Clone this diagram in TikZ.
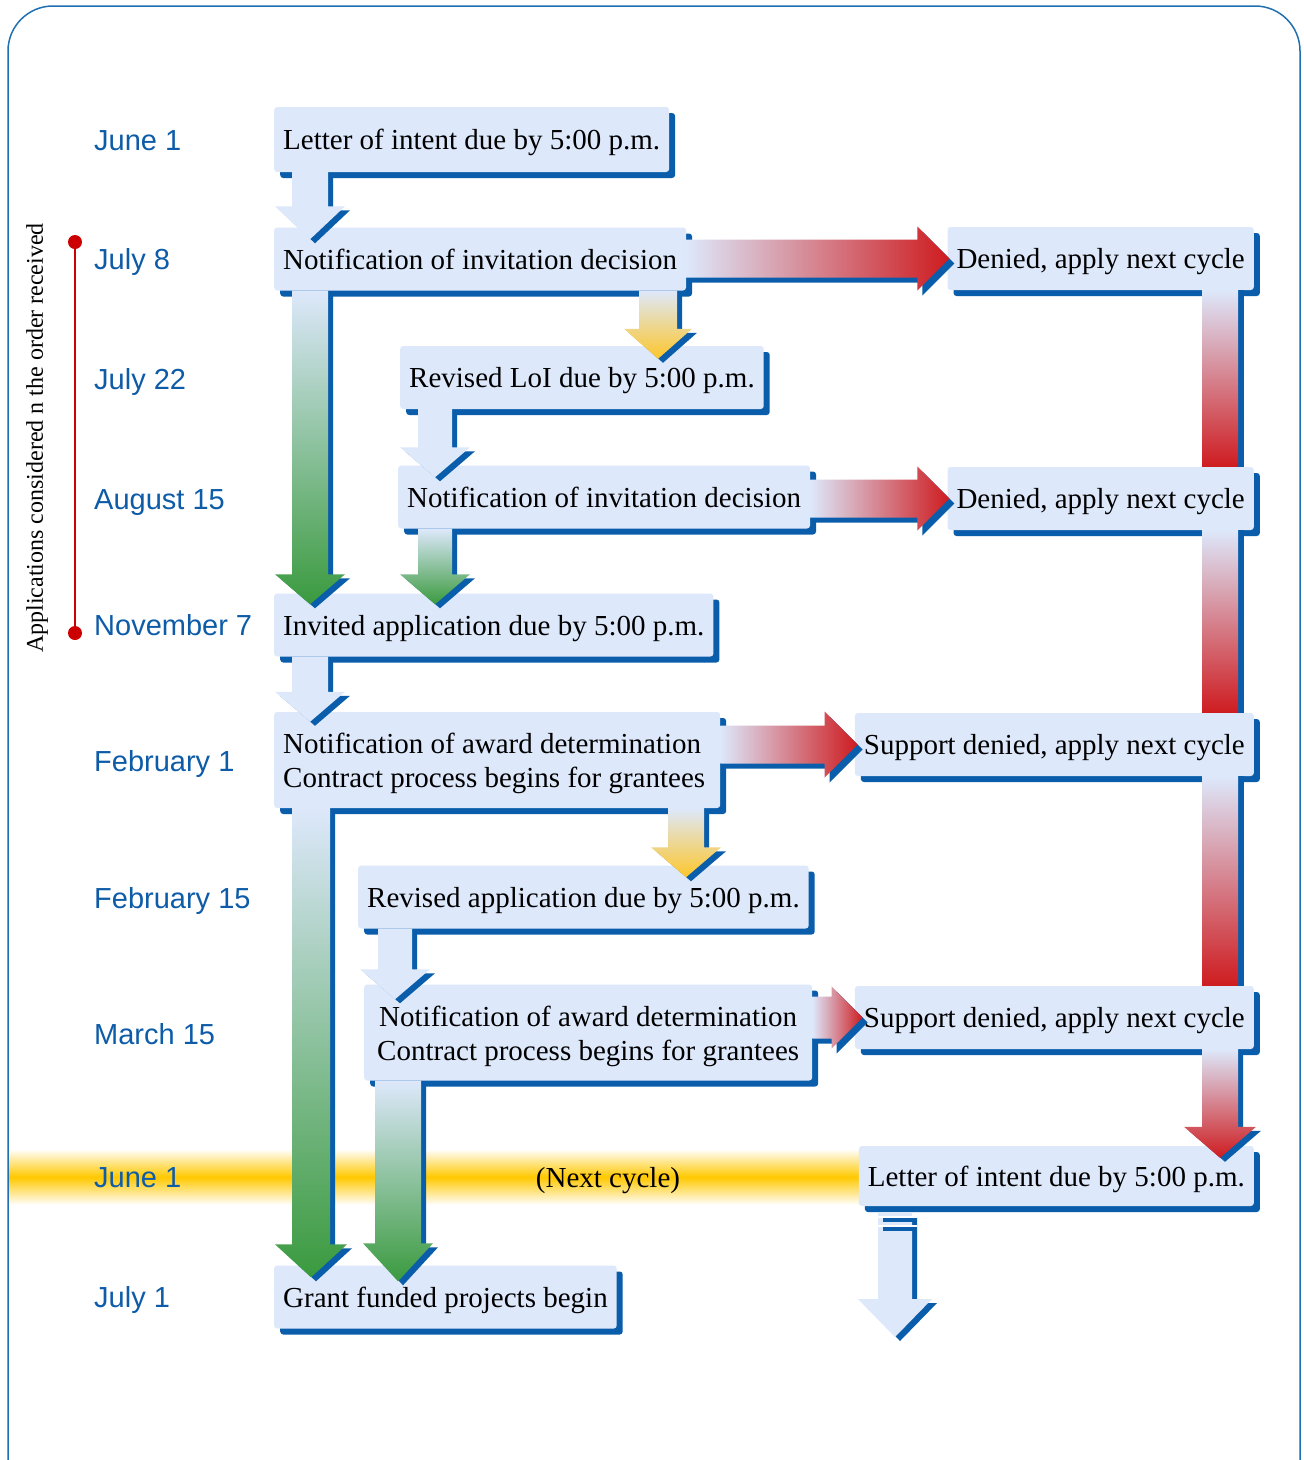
\documentclass[tikz,border=0pt]{standalone}
\usepackage{fontspec}
\setmainfont{Liberation Serif}
\newfontfamily\datefont{Liberation Sans}
\usetikzlibrary{shadows}
\definecolor{boxfill}{RGB}{221,232,251}
\definecolor{shadowblue}{RGB}{10,93,170}
\definecolor{datetext}{RGB}{14,92,168}
\definecolor{arrred}{RGB}{206,28,32}
\definecolor{arrgreen}{RGB}{58,154,62}
\definecolor{arryellow}{RGB}{253,198,43}
\definecolor{framecol}{RGB}{31,112,176}
\definecolor{bandyellow}{RGB}{255,200,0}
\definecolor{linered}{RGB}{204,0,0}
% vertical block arrow: #1 src, #2 tgt, #3 x centre, #4 shaft half width,
% #5 head half width, #6 head length, #7 overlap into target, #8 fill
\newcommand\DArrow[8]{%
  \path (#1); \pgfgetlastxy{\qax}{\qay}%
  \path (#2); \pgfgetlastxy{\qbx}{\qby}%
  \pgfmathsetmacro\qyt{\qay}%
  \pgfmathsetmacro\qyp{\qby-#7}%
  \pgfmathsetmacro\qyh{\qyp+#6}%
  \pgfmathsetmacro\qxa{#3-#4}\pgfmathsetmacro\qxb{#3+#4}%
  \pgfmathsetmacro\qxc{#3-#5}\pgfmathsetmacro\qxd{#3+#5}%
  \fill[shadowblue,shift={(5,-4)}] (\qxa,\qyt) -- (\qxb,\qyt) -- (\qxb,\qyh) -- (\qxd,\qyh) -- (#3,\qyp) -- (\qxc,\qyh) -- (\qxa,\qyh) -- cycle;
  \path[#8] (\qxa,\qyt) -- (\qxb,\qyt) -- (\qxb,\qyh) -- (\qxd,\qyh) -- (#3,\qyp) -- (\qxc,\qyh) -- (\qxa,\qyh) -- cycle;
}
% vertical bar without head: #1 src, #2 tgt, #3 x centre, #4 half width, #5 fill
\newcommand\VBar[5]{%
  \path (#1); \pgfgetlastxy{\qax}{\qay}%
  \path (#2); \pgfgetlastxy{\qbx}{\qby}%
  \pgfmathsetmacro\qxa{#3-#4}\pgfmathsetmacro\qxb{#3+#4}%
  \fill[shadowblue] (\qxb,\qay) rectangle ({\qxb+6},\qby);
  \path[#5] (\qxa,\qay) rectangle (\qxb,\qby);
}
% horizontal block arrow: #1 src, #2 tgt, #3 shaft half height,
% #4 head half height, #5 head length, #6 overlap, #7 fill
\newcommand\HArrow[7]{%
  \path (#1); \pgfgetlastxy{\qax}{\qay}%
  \path (#2); \pgfgetlastxy{\qbx}{\qby}%
  \pgfmathsetmacro\qxs{\qax}%
  \pgfmathsetmacro\qxp{\qbx+#6}%
  \pgfmathsetmacro\qxh{\qxp-#5}%
  \pgfmathsetmacro\qyc{\qby}%
  \pgfmathsetmacro\qya{\qyc+#3}\pgfmathsetmacro\qyb{\qyc-#3}%
  \pgfmathsetmacro\qyA{\qyc+#4}\pgfmathsetmacro\qyB{\qyc-#4}%
  \fill[shadowblue,shift={(5,-5)}] (\qxs,\qya) -- (\qxh,\qya) -- (\qxh,\qyA) -- (\qxp,\qyc) -- (\qxh,\qyB) -- (\qxh,\qyb) -- (\qxs,\qyb) -- cycle;
  \path[#7] (\qxs,\qya) -- (\qxh,\qya) -- (\qxh,\qyA) -- (\qxp,\qyc) -- (\qxh,\qyB) -- (\qxh,\qyb) -- (\qxs,\qyb) -- cycle;
}
\begin{document}
\begin{tikzpicture}[x=1pt,y=1pt,
  boxbase/.style={fill=boxfill, rounded corners=3pt, inner xsep=9pt, inner ysep=0pt,
    font=\fontsize{29}{34}\selectfont,
    general shadow={fill=shadowblue, shadow xshift=6pt, shadow yshift=-6pt}},
  box/.style={boxbase, minimum height=63pt, text height=20pt, text depth=0pt},
  boxtwo/.style={boxbase, minimum height=96pt, align=center},
  date/.style={anchor=base west, font=\datefont\fontsize{29}{34}\selectfont, text=datetext, inner sep=0pt},
  lightfill/.style={fill=boxfill},
  greenfill/.style={top color=boxfill, bottom color=arrgreen},
  yellowfill/.style={top color=boxfill, bottom color=arryellow},
  redvfill/.style={top color=boxfill, bottom color=arrred},
  redhfill/.style={left color=boxfill, right color=arrred},
]
\useasboundingbox (0,0) rectangle (1304,-1460);
\clip (0,0) rectangle (1304,-1460);
\fill[white] (0,0) rectangle (1304,-1460);
\draw[framecol, line width=1.5pt, rounded corners=45pt] (8,-6) rectangle (1300,-1540);

% next-cycle band
\shade[top color=white, bottom color=white, middle color=bandyellow] (9,-1149) rectangle (880,-1205);
\node[font=\fontsize{29}{34}\selectfont, inner sep=0pt] (nextcycle) at (608,-1181) {(Next cycle)};

% side note
\coordinate (rtop) at (75,-242);
\coordinate (rbot) at (75,-633);
\draw[linered, line width=2pt] (rtop) -- (rbot);
\fill[linered] (rtop) circle (7) (rbot) circle (7);
\node[rotate=90, font=\fontsize{24}{28}\selectfont, inner sep=0pt] (side) at (37,-438) {Applications considered n the order received};

% dates
\node[date] (t1) at (94,-150) {June 1};
\node[date] (t2) at (94,-269) {July 8};
\node[date] (t3) at (94,-389) {July 22};
\node[date] (t4) at (94,-509) {August 15};
\node[date] (t5) at (94,-635) {November 7};
\node[date] (t6) at (94,-771) {February 1};
\node[date] (t7) at (94,-908) {February 15};
\node[date] (t8) at (94,-1044) {March 15};
\node[date] (t9) at (94,-1187) {June 1};
\node[date] (t10) at (94,-1307) {July 1};

% boxes
\node[box, anchor=west, minimum height=65pt] (b1) at (274,-139.5) {Letter of intent due by 5:00 p.m.};
\node[box, anchor=west] (b2) at (274,-259) {Notification of invitation decision};
\node[box, anchor=east] (d1) at (1254,-258.5) {Denied, apply next cycle};
\node[box, anchor=west] (b3) at (400,-377.5) {Revised LoI due by 5:00 p.m.};
\node[box, anchor=west] (b4) at (398,-497) {Notification of invitation decision};
\node[box, anchor=east] (d2) at (1254,-498.5) {Denied, apply next cycle};
\node[box, anchor=west] (b5) at (274,-625) {Invited application due by 5:00 p.m.};
\node[boxtwo, anchor=west, align=left] (b6) at (274,-760) {\makebox[428pt][l]{\rule{0pt}{28pt}Notification of award determination}\\Contract process begins for grantees};
\node[box, anchor=east] (s1) at (1254,-744.5) {Support denied, apply next cycle};
\node[box, anchor=west] (b7) at (358,-897) {Revised application due by 5:00 p.m.};
\node[boxtwo, anchor=west, minimum width=448pt] (b8) at (364,-1032.5) {\rule{0pt}{28pt}Notification of award determination\\Contract process begins for grantees};
\node[box, anchor=east] (s2) at (1254,-1017.5) {Support denied, apply next cycle};
\node[box, anchor=east, minimum height=60pt] (l2) at (1254,-1176) {Letter of intent due by 5:00 p.m.};
\node[box, anchor=west] (g) at (274,-1297) {Grant funded projects begin};

% connectors
\DArrow{b1.south}{b2.north}{310}{18}{35}{33}{12}{lightfill}
\DArrow{b2.south}{b5.north}{310}{18}{35}{30}{11}{greenfill}
\DArrow{b2.south}{b3.north}{658}{19}{34}{30}{13}{yellowfill}
\HArrow{b2.east}{d1.west}{19}{32}{32}{2}{redhfill}
\DArrow{b3.south}{b4.north}{435}{17}{35}{30}{12}{lightfill}
\HArrow{b4.east}{d2.west}{19}{32}{32}{2}{redhfill}
\DArrow{b4.south}{b5.north}{435}{17}{35}{30}{11}{greenfill}
\VBar{d1.south}{d2.north}{1220}{18}{redvfill}
\VBar{d2.south}{s1.north}{1220}{18}{redvfill}
\VBar{s1.south}{s2.north}{1220}{18}{redvfill}
\DArrow{s2.south}{l2.north}{1220}{18}{36}{31}{12}{redvfill}
\DArrow{b5.south}{b6.north}{310}{18}{35}{30}{10}{lightfill}
\HArrow{b6.east}{s1.west}{19}{33}{33}{3}{redhfill}
\DArrow{b6.south}{b7.north}{686}{18}{35}{30}{12}{yellowfill}
\DArrow{b6.south}{g.north}{311}{19}{36}{33}{12}{greenfill}
\DArrow{b7.south}{b8.north}{395}{17}{35}{30}{15}{lightfill}
\HArrow{b8.east}{s2.west}{21}{31}{31}{8}{redhfill}
\DArrow{b8.south}{g.north}{398}{23}{35}{38}{16}{greenfill}

% continuation arrow into the next cycle
\coordinate (ns) at (895,-1213);
\coordinate (ne) at (895,-1337);
\DArrow{ns}{ne}{895}{17}{37}{38}{0}{lightfill}
\fill[white] (877,-1215.5) rectangle (917,-1218);
\fill[white] (877,-1224.5) rectangle (917,-1227);
\fill[shadowblue] (883,-1218) rectangle (917,-1222);
\fill[shadowblue] (883,-1227) rectangle (917,-1231);
\end{tikzpicture}
\end{document}
